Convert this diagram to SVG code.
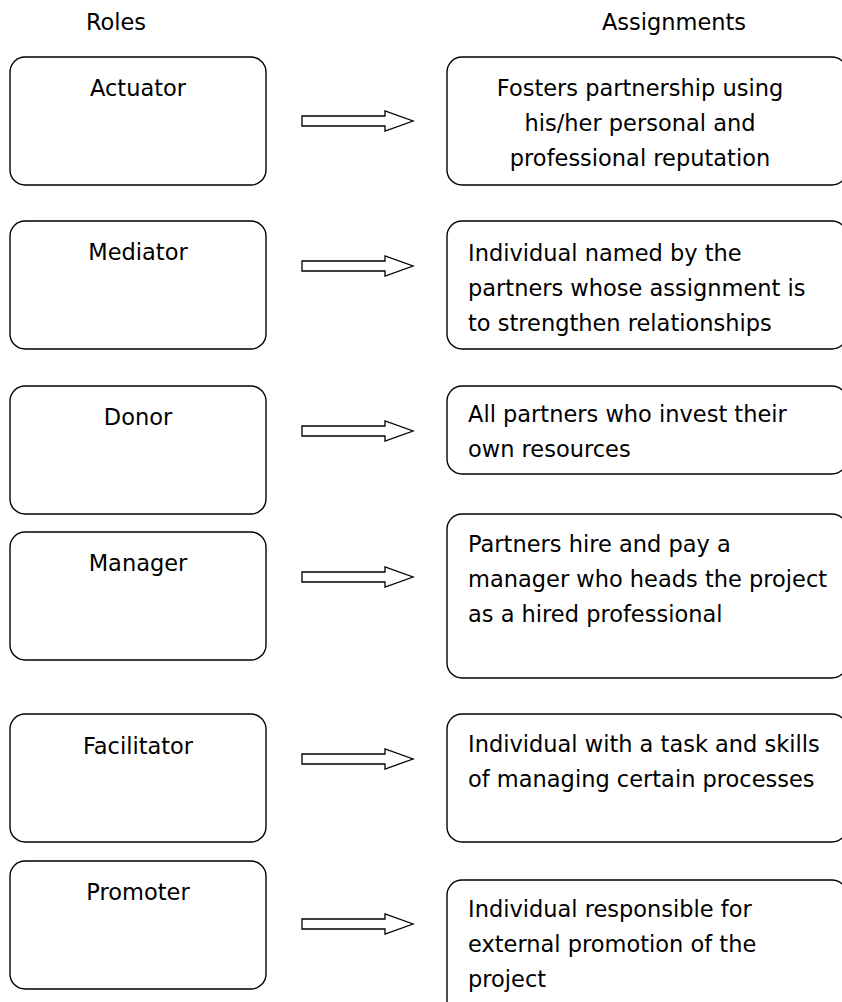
<svg xmlns="http://www.w3.org/2000/svg" width="842" height="1002" viewBox="0 0 842 1002">
  <style>
    .box { fill: #fff; stroke: #000; stroke-width: 1.4; }
    .arrow { fill: #fff; stroke: #000; stroke-width: 1.3; stroke-linejoin: miter; }
    text { font-family: "DejaVu Sans", "Open Sans", sans-serif; font-size: 22.5px; fill: #000; }
    .mid { text-anchor: middle; }
  </style>
  <defs>
    <path id="blockArrow" d="M0,-5 H83 V-10 L111,0 L83,10 V5 H0 Z"/>
  </defs>

  <!-- column headings -->
  <g id="headings">
    <text class="mid" x="116" y="30">Roles</text>
    <text class="mid" x="674" y="30">Assignments</text>
  </g>

  <!-- roles column -->
  <g id="role-actuator">
    <rect class="box" x="10" y="57" width="256" height="128" rx="15"/>
    <text class="mid" x="138" y="96">Actuator</text>
  </g>
  <g id="role-mediator">
    <rect class="box" x="10" y="221" width="256" height="128" rx="15"/>
    <text class="mid" x="138" y="260">Mediator</text>
  </g>
  <g id="role-donor">
    <rect class="box" x="10" y="386" width="256" height="128" rx="15"/>
    <text class="mid" x="138" y="425">Donor</text>
  </g>
  <g id="role-manager">
    <rect class="box" x="10" y="532" width="256" height="128" rx="15"/>
    <text class="mid" x="138" y="571">Manager</text>
  </g>
  <g id="role-facilitator">
    <rect class="box" x="10" y="714" width="256" height="128" rx="15"/>
    <text class="mid" x="138" y="754">Facilitator</text>
  </g>
  <g id="role-promoter">
    <rect class="box" x="10" y="861" width="256" height="128" rx="15"/>
    <text class="mid" x="138" y="900">Promoter</text>
  </g>

  <!-- assignments column -->
  <g id="assign-actuator">
    <rect class="box" x="447" y="57" width="400" height="128" rx="15"/>
    <text class="mid" x="640" y="96">Fosters partnership using</text>
    <text class="mid" x="640" y="131">his/her personal and</text>
    <text class="mid" x="640" y="166">professional reputation</text>
  </g>
  <g id="assign-mediator">
    <rect class="box" x="447" y="221" width="400" height="128" rx="15"/>
    <text x="468" y="261">Individual named by the</text>
    <text x="468" y="296">partners whose assignment is</text>
    <text x="468" y="331">to strengthen relationships</text>
  </g>
  <g id="assign-donor">
    <rect class="box" x="447" y="386" width="400" height="88" rx="15"/>
    <text x="468" y="422">All partners who invest their</text>
    <text x="468" y="457">own resources</text>
  </g>
  <g id="assign-manager">
    <rect class="box" x="447" y="514" width="400" height="164" rx="15"/>
    <text x="468" y="552">Partners hire and pay a</text>
    <text x="468" y="587">manager who heads the project</text>
    <text x="468" y="622">as a hired professional</text>
  </g>
  <g id="assign-facilitator">
    <rect class="box" x="447" y="714" width="400" height="128" rx="15"/>
    <text x="468" y="752">Individual with a task and skills</text>
    <text x="468" y="787">of managing certain processes</text>
  </g>
  <g id="assign-promoter">
    <rect class="box" x="447" y="880" width="400" height="140" rx="15"/>
    <text x="468" y="917">Individual responsible for</text>
    <text x="468" y="952">external promotion of the</text>
    <text x="468" y="987">project</text>
  </g>

  <!-- connectors -->
  <g id="connectors">
    <use href="#blockArrow" class="arrow" x="302" y="121"/>
    <use href="#blockArrow" class="arrow" x="302" y="266"/>
    <use href="#blockArrow" class="arrow" x="302" y="431"/>
    <use href="#blockArrow" class="arrow" x="302" y="577"/>
    <use href="#blockArrow" class="arrow" x="302" y="759"/>
    <use href="#blockArrow" class="arrow" x="302" y="924"/>
  </g>
</svg>
